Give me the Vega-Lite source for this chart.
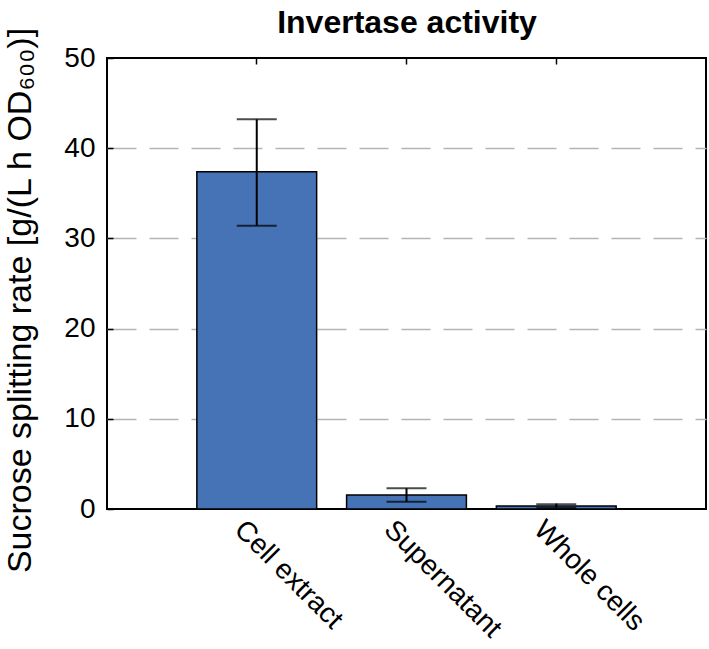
{
  "$schema": "https://vega.github.io/schema/vega-lite/v6.json",
  "autosize": {"type": "none"},
  "padding": {"left": 107, "top": 58, "right": 3, "bottom": 140},
  "width": 599,
  "height": 451,
  "config": {
    "view": {"stroke": "#000", "strokeWidth": 2},
    "font": "Liberation Sans"
  },
  "data": {
    "values": [
      {"sample": "Cell extract", "rate": 37.4, "low": 31.4, "high": 43.2},
      {"sample": "Supernatant", "rate": 1.55, "low": 0.8, "high": 2.3},
      {"sample": "Whole cells", "rate": 0.33, "low": 0.12, "high": 0.52}
    ]
  },
  "layer": [
    {
      "mark": {"type": "bar", "fill": "#4573b6", "stroke": "#000", "strokeWidth": 1.5},
      "encoding": {
        "x": {
          "field": "sample", "type": "nominal", "sort": null,
          "scale": {"paddingInner": 0.2, "paddingOuter": 0.6},
          "axis": {
            "orient": "bottom", "title": null, "domain": false,
            "ticks": true, "tickSize": -6, "tickColor": "#000", "tickWidth": 1.5,
            "labelAngle": 45, "labelAlign": "left", "labelBaseline": "middle",
            "labelFontSize": 28, "labelColor": "#000", "labelPadding": 22,
            "labelOffset": -18,
            "labelFont": "Liberation Sans"
          }
        },
        "y": {
          "field": "rate", "type": "quantitative",
          "scale": {"domain": [0, 50], "nice": false},
          "axis": {
            "title": "Sucrose splitting rate [g/(L h OD₆₀₀)]",
            "titleFontSize": 34, "titleFontWeight": "normal", "titleColor": "#000",
            "titleFont": "Liberation Sans", "titlePadding": 26, "titleY": 242,
            "values": [0, 10, 20, 30, 40, 50],
            "domain": false,
            "tickSize": -6, "tickColor": "#000", "tickWidth": 1.5,
            "labelFontSize": 28, "labelColor": "#000", "labelPadding": 18,
            "labelFont": "Liberation Sans",
            "grid": true, "gridColor": "#b4b4b4", "gridWidth": 1.5, "gridDash": [29, 13],
            "gridOpacity": {"condition": {"test": "datum.value == 0 || datum.value == 50", "value": 0}, "value": 1}
          }
        }
      }
    },
    {
      "mark": {"type": "rule", "color": "#000", "strokeWidth": 2},
      "encoding": {
        "x": {"field": "sample", "type": "nominal", "sort": null,
              "axis": {"orient": "top", "title": "Invertase activity",
                       "titleFont": "Liberation Sans", "titleFontSize": 32, "titleFontWeight": "bold",
                       "titleColor": "#000", "titlePadding": 18,
                       "domain": false, "labels": false,
                       "ticks": true, "tickSize": -6, "tickColor": "#000", "tickWidth": 1.5}},
        "y": {"field": "low", "type": "quantitative"},
        "y2": {"field": "high"}
      }
    },
    {
      "mark": {"type": "tick", "color": "#000", "size": 40, "thickness": 2, "orient": "horizontal"},
      "encoding": {
        "x": {"field": "sample", "type": "nominal", "sort": null, "axis": null},
        "y": {"field": "low", "type": "quantitative"}
      }
    },
    {
      "mark": {"type": "tick", "color": "#000", "size": 40, "thickness": 2, "orient": "horizontal"},
      "encoding": {
        "x": {"field": "sample", "type": "nominal", "sort": null, "axis": null},
        "y": {"field": "high", "type": "quantitative"}
      }
    }
  ]
}
